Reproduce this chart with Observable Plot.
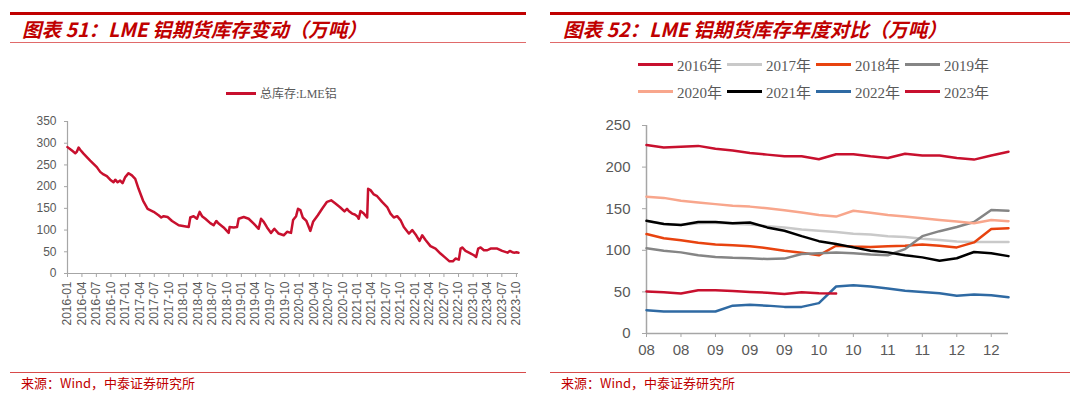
<!DOCTYPE html>
<html><head><meta charset="utf-8">
<script src="https://cdn.jsdelivr.net/npm/d3@7"></script>
<script src="https://cdn.jsdelivr.net/npm/@observablehq/plot@0.6"></script>
<style>
body{margin:0;background:#fff;width:1080px;height:396px;overflow:hidden;position:relative;font-family:"Liberation Sans",Arial,sans-serif;}
.topline{position:absolute;height:3px;background:#c00000;top:12px;}
.subline{position:absolute;height:1px;background:#e06a6a;top:42px;}
.botline{position:absolute;height:1px;background:#d84a4a;top:372px;}
.title{position:absolute;top:16px;font:italic bold 19.5px "Noto Sans CJK SC",sans-serif;color:#c00000;white-space:nowrap;line-height:25px;}
.source{position:absolute;top:374px;font:13px "Noto Sans CJK SC",sans-serif;color:#c00000;white-space:nowrap;line-height:18px;}
.chart{position:absolute;}
.leg{position:absolute;display:flex;align-items:center;white-space:nowrap;font:15px "Liberation Serif","Noto Sans CJK SC",serif;color:#595959;}
.leg .sw{display:inline-block;height:3px;margin-right:4px;}
</style>
</head><body>
<div class="topline" style="left:10px;width:516px"></div>
<div class="subline" style="left:10px;width:516px"></div>
<div class="title" style="left:22px">图表 51：LME 铝期货库存变动（万吨）</div>
<div class="topline" style="left:550px;width:520px"></div>
<div class="subline" style="left:550px;width:520px"></div>
<div class="title" style="left:563px">图表 52：LME 铝期货库存年度对比（万吨）</div>
<div class="botline" style="left:10px;width:516px"></div>
<div class="botline" style="left:550px;width:520px"></div>
<div class="source" style="left:21px">来源：Wind，中泰证券研究所</div>
<div class="source" style="left:561px">来源：Wind，中泰证券研究所</div>
<div id="leftLegend"></div>
<div id="rightLegend"></div>
<div id="left" class="chart" style="left:0;top:110px"></div>
<div id="right" class="chart" style="left:560px;top:115px"></div>
<script>
// ---------- Left chart data ----------
const leftSeriesName = "总库存:LME铝";
const leftDates = ["2016-01-01","2016-01-29","2016-02-19","2016-02-28","2016-03-11","2016-03-21","2016-04-11","2016-05-23","2016-07-04","2016-07-25","2016-08-15","2016-09-05","2016-09-26","2016-10-17","2016-10-28","2016-11-12","2016-11-28","2016-12-13","2016-12-30",
"2017-01-20","2017-02-10","2017-03-03","2017-03-24","2017-04-21","2017-05-20","2017-06-27","2017-07-28","2017-08-14","2017-08-29","2017-09-23","2017-10-21","2017-12-02",
"2018-02-03","2018-02-13","2018-03-06","2018-03-27","2018-04-13","2018-04-28","2018-05-19","2018-06-19","2018-07-10","2018-07-27","2018-08-11","2018-09-11","2018-10-13","2018-10-19","2018-11-14","2018-12-05","2018-12-15",
"2019-01-16","2019-02-16","2019-03-20","2019-04-20","2019-05-05","2019-05-22","2019-06-12","2019-07-07","2019-07-28","2019-08-24","2019-09-25","2019-10-16","2019-11-10","2019-11-23","2019-12-12","2019-12-24",
"2020-01-08","2020-01-23","2020-02-15","2020-03-11","2020-03-28","2020-04-27","2020-05-24","2020-06-24","2020-07-20","2020-08-16","2020-09-16","2020-10-12","2020-10-28","2020-11-08","2020-11-29","2020-12-16","2020-12-31",
"2021-01-10","2021-01-21","2021-02-11","2021-03-04","2021-03-10","2021-03-25","2021-04-15","2021-05-06","2021-06-06","2021-07-08","2021-07-29","2021-08-19","2021-09-09","2021-09-30","2021-10-21","2021-11-22","2021-12-13",
"2022-01-07","2022-01-28","2022-02-14","2022-03-07","2022-04-07","2022-05-09","2022-06-09","2022-07-11","2022-08-05","2022-08-26","2022-09-12","2022-10-03","2022-10-14","2022-10-24","2022-11-14","2022-12-09",
"2023-01-06","2023-01-20","2023-02-02","2023-02-17","2023-03-10","2023-03-31","2023-04-21","2023-06-02","2023-07-03","2023-08-06","2023-08-20","2023-09-05","2023-09-20","2023-10-01","2023-10-14"];
const leftValues = [291,283,277,280,290,285,276,260,245,234,228,224,216,210,216,210,214,208,222,
231,226,218,195,168,149,142,134,129,132,130,121,111,
107,129,132,126,142,132,126,116,111,121,115,106,93.5,107,106,107,126,
130,126,115,103,126,119,106,93.5,103,92,88,96,93.5,123,132,149,
146,129,121,98,119,134,149,165,168.5,161,152,143,149,144,138,136,132,
126,144,138,129,195,192,182,178,165,153,138,129,132,123,107,92,100,
88,75,88,77,63,57.5,46,36,28,28,34.5,32,57.5,60,52,47.5,
42,38,57.5,60,53.5,53.5,57.5,57.5,52,48,52,49,48,49,48];
const leftYTicks = [0,50,100,150,200,250,300,350];
const leftXStart = "2016-01-01", leftXEnd = "2023-10-14";
const leftColor = "#c8102e";

// ---------- Right chart data ----------
const weekLabels = ["08","08","09","09","09","10","10","11","11","12","12"];
const years = ["2016年","2017年","2018年","2019年","2020年","2021年","2022年","2023年"];
const yearColors = ["#c8102e","#c9c9c9","#e8430f","#858585","#f8a68c","#000000","#2f6aa3","#c8102e"];
const s2016 = [226.5,223.5,224.5,225.5,222,220,217,215,213,213,209.5,215.5,215.5,213,211,216,214,214,211,209,214,218.5];
const s2017 = [135,132,130.5,132.5,133,132,131,129,127.5,125,123.5,122,120,119,117,116,114,112.5,110.5,110,110,110];
const s2018 = [119.5,114.5,112,109,107,106,105,102.5,99.5,97,94,105.5,104.5,104,105,105.5,107,105.5,103.5,109.5,125.5,126.5];
const s2019 = [102.5,99.5,97.5,94,92,91,90.5,89.5,90,95.5,96.5,97.5,96.5,95,94,101.5,117,123,128,134,148.5,147.5];
const s2020 = [164.5,163,159.5,157.5,155.5,153.5,152.5,150.5,148,145.5,142.5,140.5,147.5,145,142.5,140.5,138.5,136.5,134.5,132.5,136.5,135];
const s2021 = [135.5,131.5,130.5,134,134,132.5,133.5,127.5,123.5,117,111,107.5,103.5,99.5,97.5,94,91.5,87.5,90.5,98,96.5,93];
const s2022 = [28,26.5,26.5,26.5,26.5,33.5,34.5,33.5,32,32,36.5,56.5,58,56.5,54,51.5,50,48.5,45.5,47,46,43.5];
const s2023 = [50.5,49.5,48,52,52,51,50,49,47.5,49.5,48.5,48];
const rightYTicks = [0,50,100,150,200,250];

const axisGray = "#a6a6a6", labelGray = "#595959";

// ---------- Left chart ----------
const leftData = leftDates.map((d,i)=>({date:new Date(d), value:leftValues[i]}));
const x0 = new Date(leftXStart), x1 = new Date(leftXEnd);
const leftTicks = d3.utcMonth.every(3).range(x0, new Date("2023-10-02"));
const leftPlot = Plot.plot({
  width:540, height:230, marginLeft:67, marginRight:22, marginTop:11, marginBottom:67,
  style:{fontFamily:"Liberation Sans, Arial, sans-serif", fontSize:"12px", background:"transparent", overflow:"visible"},
  x:{type:"utc", domain:[x0,x1]},
  y:{domain:[0,350]},
  marks:[
    Plot.axisY({ticks:leftYTicks, tickSize:3, tickPadding:8, label:null, stroke:axisGray, fill:labelGray, fontSize:12}),
    Plot.axisX({ticks:leftTicks, tickSize:4, tickPadding:4, tickRotate:-90, tickFormat:d3.utcFormat("%Y-%m"), label:null, stroke:axisGray, fill:labelGray, fontSize:12}),
    Plot.ruleX([x0], {stroke:axisGray, strokeWidth:1.2}),
    Plot.ruleY([0], {stroke:axisGray, strokeWidth:1.2}),
    Plot.line(leftData, {x:"date", y:"value", stroke:leftColor, strokeWidth:2.5, strokeLinejoin:"round"})
  ]
});
document.getElementById("left").appendChild(leftPlot);

// left legend
const ll = document.getElementById("leftLegend");
ll.className = "leg";
ll.style.left = "226px"; ll.style.top = "84px"; ll.style.fontSize = "12px";
ll.innerHTML = `<span class="sw" style="width:30px;background:${leftColor}"></span><span>${leftSeriesName}</span>`;

// ---------- Right chart ----------
const allSeries = [s2016,s2017,s2018,s2019,s2020,s2021,s2022,s2023];
const rightData = allSeries.flatMap((arr,k)=>arr.map((v,i)=>({i, v, year:years[k]})));
const rightTicks = weekLabels.map((_,k)=>k*2);
const rightPlot = Plot.plot({
  width:500, height:250, marginLeft:86, marginRight:52, marginTop:10, marginBottom:32,
  style:{fontFamily:"Liberation Sans, Arial, sans-serif", fontSize:"15px", background:"transparent", overflow:"visible"},
  x:{domain:[0,21]},
  y:{domain:[0,250]},
  marks:[
    Plot.axisY({ticks:rightYTicks, tickSize:4, tickPadding:12, label:null, stroke:axisGray, fill:labelGray, fontSize:15}),
    Plot.axisX({ticks:rightTicks, tickSize:4, tickPadding:7, tickFormat:(d)=>weekLabels[d/2], label:null, stroke:axisGray, fill:labelGray, fontSize:15}),
    Plot.ruleX([0], {stroke:axisGray, strokeWidth:1.5}),
    Plot.ruleY([0], {stroke:axisGray, strokeWidth:1.5}),
    ...years.map((y,k)=>Plot.line(rightData.filter(d=>d.year===y), {x:"i", y:"v", stroke:yearColors[k], strokeWidth:2.5, strokeLinejoin:"round"}))
  ]
});
document.getElementById("right").appendChild(rightPlot);

// right legend (two rows of four)
const rl = document.getElementById("rightLegend");
years.forEach((y,k)=>{
  const d = document.createElement("div");
  d.className = "leg";
  d.style.left = (638 + (k%4)*89) + "px";
  d.style.top = (k<4 ? 54 : 81) + "px";
  d.innerHTML = `<span class="sw" style="width:35px;background:${yearColors[k]}"></span><span>${y}</span>`;
  rl.appendChild(d);
});
</script>
</body></html>
